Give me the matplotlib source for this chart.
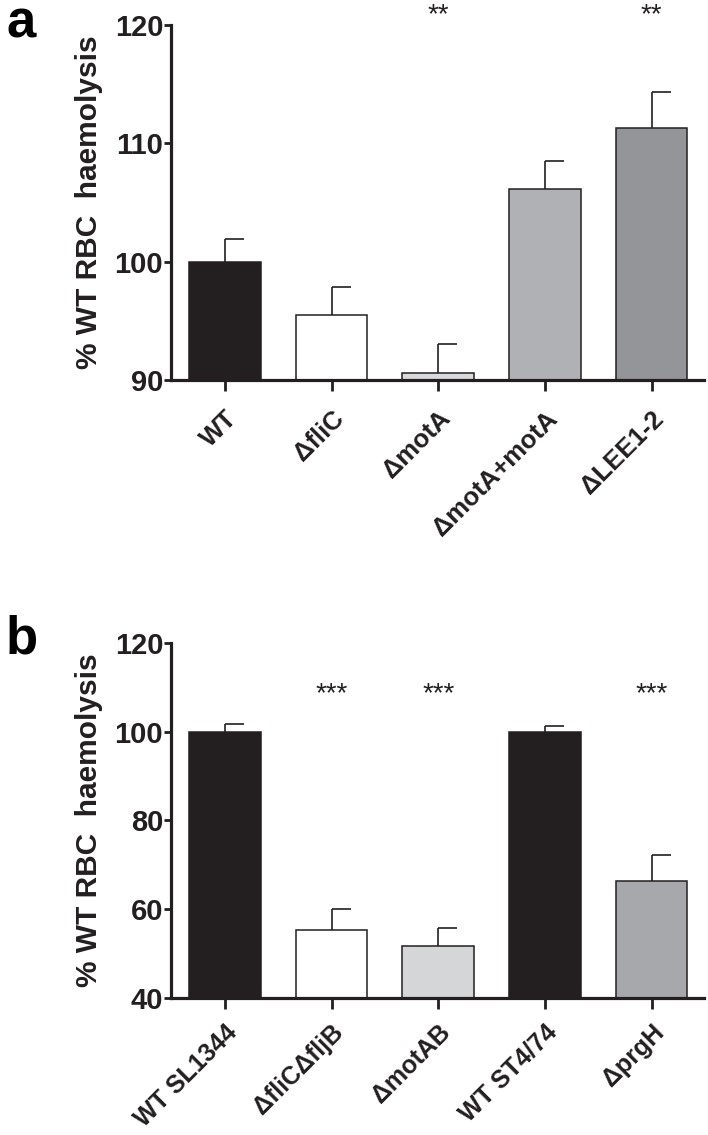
import matplotlib
matplotlib.use("Agg")
import matplotlib.pyplot as plt
import numpy as np

# ---- data ----
cats_a = ["WT", "ΔfliC", "ΔmotA", "ΔmotA+motA", "ΔLEE1-2"]
vals_a = [100.0, 95.5, 90.6, 106.1, 111.3]
errs_a = [1.9, 2.4, 2.4, 2.4, 3.0]
stars_a = ["", "", "**", "", "**"]
colors_a = ["#231f20", "#ffffff", "#d9dadb", "#b0b1b4", "#939598"]
yticks_a = [90, 100, 110, 120]

cats_b = ["WT SL1344", "ΔfliCΔfljB", "ΔmotAB", "WT ST4/74", "ΔprgH"]
vals_b = [100.0, 55.4, 51.8, 100.0, 66.3]
errs_b = [1.8, 4.6, 4.0, 1.4, 6.0]
stars_b = ["", "***", "***", "", "***"]
colors_b = ["#231f20", "#ffffff", "#d5d6d8", "#231f20", "#a7a8ab"]
yticks_b = [40, 60, 80, 100, 120]

ylabel = "% WT RBC  haemolysis"

INK = "#231f20"
FONT = ["Liberation Sans", "DejaVu Sans"]
NARROW = ["Liberation Sans Narrow", "Liberation Sans", "DejaVu Sans"]

fig = plt.figure(figsize=(7.08, 11.35), dpi=100)


def panel(rect, cats, vals, errs, stars, colors, yticks, star_y, letter, letter_y,
          xfs, xpad):
    ax = fig.add_axes(rect)
    x = np.arange(len(cats))
    ax.bar(x, vals, width=0.67, color=colors, edgecolor=INK, linewidth=1.1, zorder=2)
    tops = np.array(vals) + np.array(errs)
    ax.vlines(x, vals, tops, color=INK, linewidth=1.2, zorder=3)
    ax.hlines(tops, x, x + 0.18, color=INK, linewidth=1.2, zorder=3)
    for xi, s in zip(x, stars):
        if s:
            ax.text(xi, star_y, s, ha="center", va="top", fontsize=20,
                    family=FONT, color=INK, clip_on=False)
    ax.set_xlim(-0.5, 4.49)
    ax.set_ylim(yticks[0], yticks[-1])
    ax.set_yticks(yticks)
    ax.set_yticklabels([str(t) for t in yticks], fontsize=21, fontweight="bold",
                       family=NARROW, color=INK)
    ax.set_xticks(x)
    ax.set_xticklabels(cats, rotation=45, ha="right", rotation_mode="anchor",
                       fontsize=xfs, fontweight="bold", family=FONT, color=INK)
    ax.tick_params(axis="x", length=8, width=2, pad=xpad, color=INK)
    ax.tick_params(axis="y", length=5, width=2, pad=1, color=INK)
    for sp in ["top", "right"]:
        ax.spines[sp].set_visible(False)
    for sp in ["left", "bottom"]:
        ax.spines[sp].set_linewidth(2.3)
        ax.spines[sp].set_color(INK)
    ax.set_ylabel(ylabel, fontsize=21.5, fontweight="bold", family=FONT, color=INK,
                  labelpad=8)
    fig.text(0.0085, letter_y, letter, fontsize=38, fontweight="bold", family=FONT,
             color="black", va="baseline", ha="left")
    return ax


panel([0.2422, 0.6652, 0.752, 0.3128], cats_a, vals_a, errs_a, stars_a, colors_a,
      yticks_a, 121.94, "a", 1 - 38 / 1135, 18.5, 11)
panel([0.2422, 0.1207, 0.752, 0.3128], cats_b, vals_b, errs_b, stars_b, colors_b,
      yticks_b, 111.4, "b", 1 - 654 / 1135, 18, 8)

fig.savefig("out.png", dpi=100)
